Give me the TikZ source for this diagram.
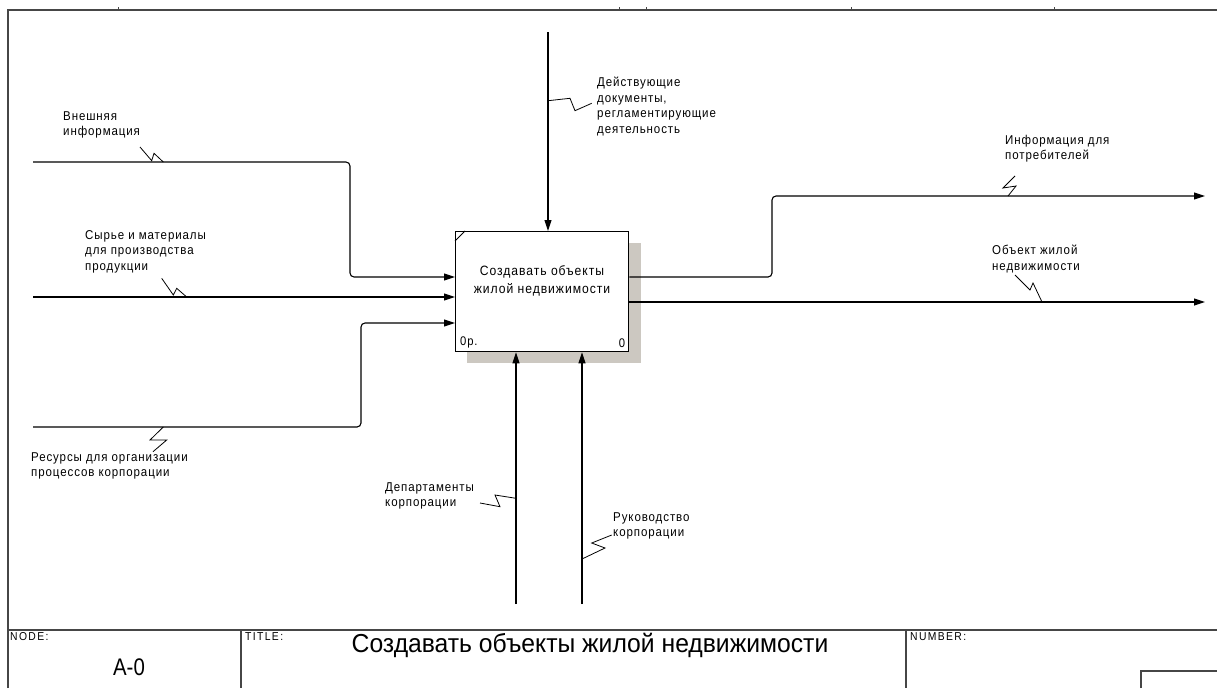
\documentclass[tikz,border=0pt]{standalone}
\usepackage{fontspec}
\setmainfont{Liberation Sans}
\newfontfamily\lblfont[LetterSpace=7,FakeStretch=0.9]{Liberation Sans}
\newfontfamily\capfont[LetterSpace=12,FakeStretch=0.9]{Liberation Sans}
\newfontfamily\narrowfont[FakeStretch=0.85]{Liberation Sans}
\newfontfamily\titlefont[FakeStretch=0.95]{Liberation Sans}
\usetikzlibrary{arrows.meta,calc}
\definecolor{shadowc}{RGB}{204,200,193}
\definecolor{framec}{RGB}{70,70,70}
\begin{document}
\begin{tikzpicture}[x=1pt,y=-1pt,
  frame/.style={line width=1.6pt, draw=framec},
  flow/.style={line width=1.1pt, draw=black, rounded corners=4pt},
  arr/.style={flow, -{Triangle[length=11pt,width=7pt]}},
  squig/.style={line width=0.8pt, draw=black},
  lbl/.style={anchor=north west, inner sep=0pt, align=left,
              font=\lblfont\fontsize{12.8}{15.5}\selectfont},
  small/.style={anchor=north west, inner sep=0pt, font=\capfont\fontsize{11.5}{12}\selectfont}]
\useasboundingbox (0,0) rectangle (1217,688);

% sheet frame
\draw[frame] (8,688) -- (8,10) -- (1217,10);
\foreach \t in {118,619,646,851,1054} \draw[frame, line width=1pt] (\t,7) -- (\t,10);

% activity box with its shadow
\coordinate (boxnw) at (455,231);
\fill[shadowc] (467,243) rectangle (641,363);
\node[draw, fill=white, line width=1.3pt, minimum width=173pt, minimum height=120pt,
      inner sep=0pt, anchor=north west] (act) at (boxnw) {};
\draw[line width=0.9pt] ($(act.north west)+(0,10)$) -- ($(act.north west)+(10,0)$);
\node[inner sep=0pt, align=center, font=\lblfont\fontsize{13.5}{18.5}\selectfont] (acttext) at (542,281)
  {Создавать объекты\\жилой недвижимости};
\node[anchor=south west, inner sep=0pt, font=\lblfont\fontsize{12.5}{12}\selectfont] (actref)
  at ($(act.south west)+(5,-4)$) {0р.};
\node[anchor=south east, inner sep=0pt, font=\lblfont\fontsize{12.5}{12}\selectfont] (actnum)
  at ($(act.south east)+(-4,-4)$) {0};

% free ends of the arrows
\coordinate (in1) at (33,162);
\coordinate (in2) at (33,297);
\coordinate (in3) at (33,427);
\coordinate (ctl) at (548,32);
\coordinate (out1) at (1205,196);
\coordinate (out2) at (1205,302);
\coordinate (mech1) at (516,604);
\coordinate (mech2) at (582,604);

% inputs
\draw[arr] (in1) -- (350,162) -- (350,277) -- (act.west |- 0,277);
\draw[arr] (in2) -- (act.west |- in2);
\draw[arr] (in3) -- (361,427) -- (361,323) -- (act.west |- 0,323);
% control
\draw[arr] (ctl) -- (act.north -| ctl);
% outputs
\draw[arr] (act.east |- 0,277) -- (772,277) -- (772,196) -- (out1);
\draw[arr] (act.east |- out2) -- (out2);
% mechanisms
\draw[arr] (mech1) -- (act.south -| mech1);
\draw[arr] (mech2) -- (act.south -| mech2);

% labels
\node[lbl] (lext) at (63,111) {Внешняя\\информация};
\node[lbl] (lraw) at (85,230) {Сырье и материалы\\для производства\\продукции};
\node[lbl] (lres) at (31,452) {Ресурсы для организации\\процессов корпорации};
\node[lbl] (lctl) at (597,77) {Действующие\\документы,\\регламентирующие\\деятельность};
\node[lbl] (linfo) at (1005,135) {Информация для\\потребителей};
\node[lbl] (lobj) at (992,245) {Объект жилой\\недвижимости};
\node[lbl] (ldep) at (385,482) {Департаменты\\корпорации};
\node[lbl] (lmgmt) at (613,512) {Руководство\\корпорации};

% label squiggles
\draw[squig] (140,147) -- (151.7,160.7) -- (154,153.3) -- (163.3,162);
\draw[squig] (161.7,278.3) -- (173.3,295) -- (176.7,288.3) -- (186.7,297);
\draw[squig] (163.3,427) -- (150,440) -- (166.7,440) -- (153,451.7);
\draw[squig] (548,100.7) -- (570,98.3) -- (575,110.7) -- (591.7,103.3);
\draw[squig] (1015,176) -- (1003,188) -- (1016,186) -- (1008,196);
\draw[squig] (1015,275) -- (1030,290) -- (1033,283) -- (1042,302);
\draw[squig] (480,503) -- (500,506.7) -- (495,495) -- (516,498.3);
\draw[squig] (582,559) -- (605,548) -- (591.7,543) -- (611.7,535);

% title block
\draw[frame, line width=1.2pt] (8,630) -- (1217,630);
\draw[frame, line width=1.2pt] (241,630) -- (241,688);
\draw[frame, line width=1.2pt] (906,630) -- (906,688);
\draw[frame, line width=1.2pt] (1141,688) -- (1141,671) -- (1217,671);
\node[small] (tnode) at (10,632) {NODE:};
\node[small] (ttitle) at (245,632) {TITLE:};
\node[small] (tnumber) at (910,632) {NUMBER:};
\node[inner sep=0pt, font=\narrowfont\fontsize{24}{26}\selectfont] (tnodeval) at (129,667) {A-0};
\node[inner sep=0pt, font=\titlefont\fontsize{26}{28}\selectfont] (ttitleval) at (590,645)
  {Создавать объекты жилой недвижимости};
\end{tikzpicture}
\end{document}
